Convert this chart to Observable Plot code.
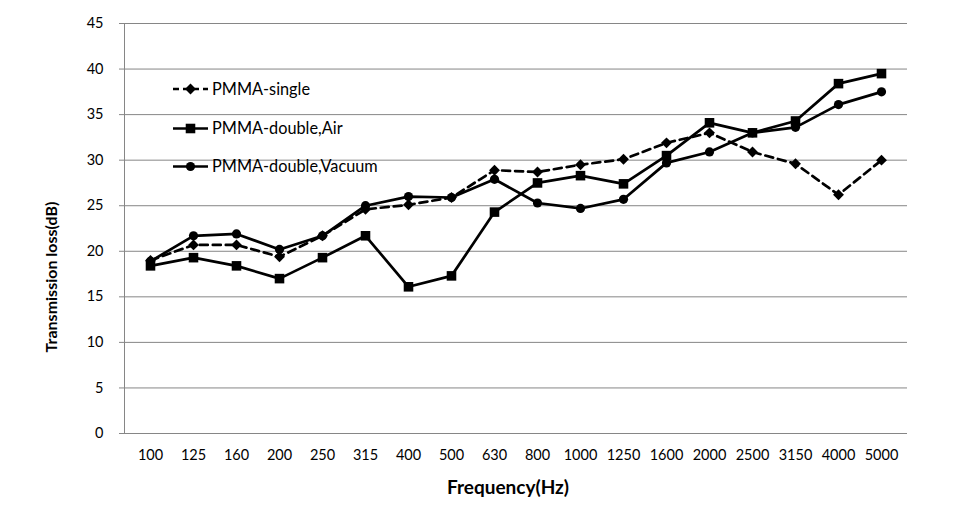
<!DOCTYPE html>
<html><head><meta charset="utf-8">
<script src="https://cdn.jsdelivr.net/npm/d3@7"></script>
<script src="https://cdn.jsdelivr.net/npm/@observablehq/plot@0.6"></script>
<style>
body{margin:0;background:#fff;}
#wrap{position:relative;width:965px;height:512px;font-family:Lato,"Open Sans",sans-serif;}
#overlay{position:absolute;left:0;top:0;pointer-events:none;}
</style></head><body><div id="wrap"></div>
<script>
const frequencies = ["100","125","160","200","250","315","400","500","630","800","1000","1250","1600","2000","2500","3150","4000","5000"];
const pmmaSingle       = [19.0,20.7,20.7,19.4,21.7,24.6,25.1,25.9,28.9,28.7,29.5,30.1,31.9,33.0,30.9,29.6,26.2,30.0];
const pmmaDoubleAir    = [18.4,19.3,18.4,17.0,19.3,21.7,16.1,17.3,24.3,27.5,28.3,27.4,30.5,34.1,33.0,34.3,38.4,39.5];
const pmmaDoubleVacuum = [18.9,21.7,21.9,20.2,21.7,25.0,26.0,25.9,27.9,25.3,24.7,25.7,29.7,30.9,33.0,33.6,36.1,37.5];
const yTicks = [0,5,10,15,20,25,30,35,40,45];
const seriesNames = ["PMMA-single","PMMA-double,Air","PMMA-double,Vacuum"];
const seriesSymbols = ["diamond2","square","circle"];

const seriesValues = [pmmaSingle, pmmaDoubleAir, pmmaDoubleVacuum];
const data = [];
seriesNames.forEach((s, k) => frequencies.forEach((f, i) => data.push({series: s, freq: f, value: seriesValues[k][i]})));
const bySeries = s => data.filter(d => d.series === s);

const font = 'Lato, "Open Sans", sans-serif';
const symR = {diamond2: 4.9, square: 5.4, circle: 4.6};

const marks = [
  Plot.gridY(yTicks, {stroke: "#868686", strokeOpacity: 1}),
  Plot.axisY(yTicks, {tickSize: 5, tickPadding: 16, stroke: "#868686", fill: "#000", fontSize: 14.5, label: null}),
  Plot.axisX({tickSize: 0, tickPadding: 16, fill: "#000", fontSize: 14.5, label: null}),
  Plot.ruleY([0], {stroke: "#868686"}),
  Plot.frame({anchor: "left", stroke: "#868686"})
];
seriesNames.forEach((s, k) => {
  marks.push(Plot.line(bySeries(s), {x: "freq", y: "value", stroke: "#000", strokeWidth: 2.7,
    strokeDasharray: k === 0 ? "8,5" : null}));
});
seriesNames.forEach((s, k) => {
  marks.push(Plot.dot(bySeries(s), {x: "freq", y: "value", fill: "#000", stroke: "none",
    symbol: () => seriesSymbols[k], r: symR[seriesSymbols[k]]}));
});

const chart = Plot.plot({
  width: 965, height: 512,
  marginLeft: 124, marginRight: 58, marginTop: 23, marginBottom: 79,
  style: {fontFamily: font, fontSize: "14px", color: "#000", background: "#fff"},
  x: {type: "point", domain: frequencies, padding: 0.5, label: null},
  y: {domain: [0, 45], label: null},
  marks
});
const wrap = document.getElementById("wrap");
wrap.appendChild(chart);

// overlay: legend and axis titles
const svg = d3.select(wrap).append("svg").attr("id", "overlay")
  .attr("width", 965).attr("height", 512).style("font-family", font);

svg.append("text").attr("transform", "translate(57,277) rotate(-90)")
  .attr("text-anchor", "middle").attr("font-weight", "bold").attr("font-size", 16)
  .text("Transmission loss(dB)");
svg.append("text").attr("x", 508).attr("y", 494)
  .attr("text-anchor", "middle").attr("font-weight", "bold").attr("font-size", 19)
  .text("Frequency(Hz)");

const symMap = {diamond2: d3.symbolDiamond2, square: d3.symbolSquare, circle: d3.symbolCircle};
const legendY = [89, 128.5, 166.5];
seriesNames.forEach((s, k) => {
  const g = svg.append("g").attr("transform", `translate(0,${legendY[k]})`);
  g.append("line").attr("x1", 173).attr("x2", 208).attr("y1", 0).attr("y2", 0)
    .attr("stroke", "#000").attr("stroke-width", 2.7)
    .attr("stroke-dasharray", k === 0 ? "6,4" : null);
  const r = symR[seriesSymbols[k]];
  g.append("path").attr("transform", "translate(190.5,0)")
    .attr("d", d3.symbol(symMap[seriesSymbols[k]], Math.PI * r * r)());
  g.append("text").attr("x", 212).attr("y", 0).attr("dy", "0.35em")
    .attr("font-size", 16.3).text(s);
});
</script></body></html>
